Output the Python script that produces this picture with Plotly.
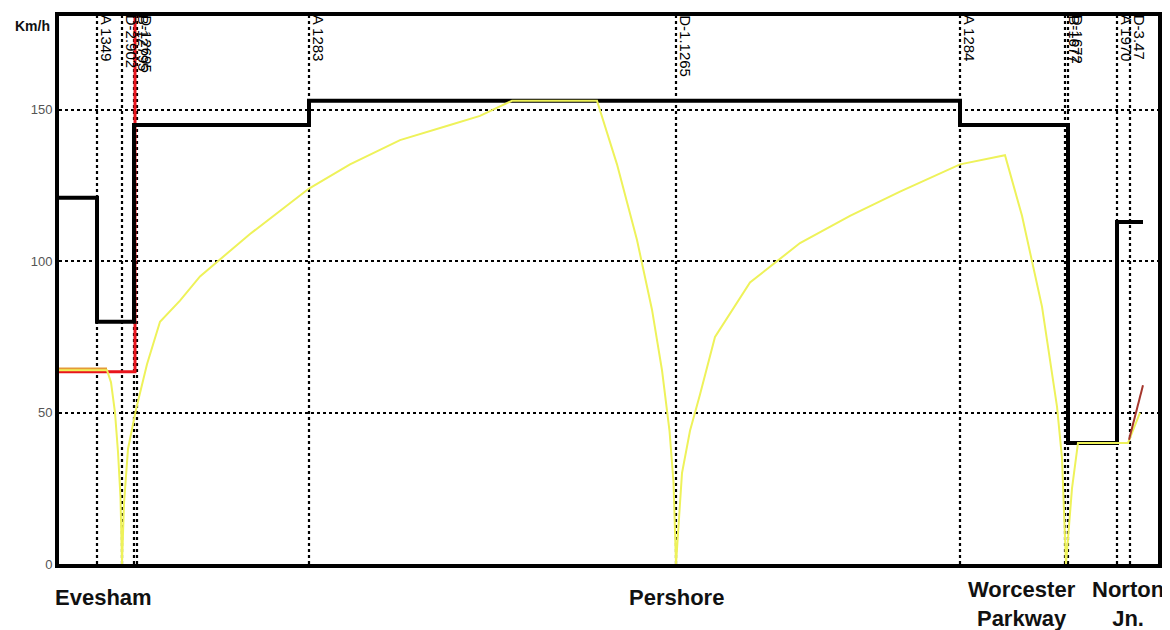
import plotly.graph_objects as go

# ---- data (distance in km, speed in km/h) ----
marker_x = [0.80, 1.30, 1.54, 1.60, 5.04, 12.38, 18.06, 20.16, 20.22, 21.20, 21.46]
marker_labels = ["A 1349", "D-2.902", "B-12795", "D-12695", "A 1283", "D-1.1265",
                 "A 1284", "B-1677", "D-1672", "A 1970", "D-3.47"]

limit_x = [0.0, 0.80, 1.54, 5.04, 18.06, 20.22, 21.20, 21.72]
limit_y = [121, 80, 145, 153, 145, 40, 113, 113]

red_x = [0.0, 1.56, 1.56]
red_y = [63.5, 63.5, 190]
orange_x = [0.0, 1.0]
orange_y = [64.5, 64.5]
brown_x = [21.44, 21.72]
brown_y = [41, 59]

speed_x = [0.0, 1.0, 1.08, 1.16, 1.22, 1.27, 1.30,
           1.34, 1.42, 1.58, 1.80, 2.06, 2.46, 2.86, 3.86, 5.04, 5.86, 6.86, 7.86, 8.46, 9.10,
           10.80, 11.20, 11.60, 11.90, 12.10, 12.25, 12.33, 12.38,
           12.50, 12.66, 12.86, 13.16, 13.86, 14.86, 15.86, 16.86, 18.06, 18.96,
           19.30, 19.70, 20.00, 20.10, 20.18,
           20.30, 20.42, 21.42, 21.66]
speed_y = [64, 64, 60, 50, 37, 22, 0,
           20, 38, 51, 66, 80, 87, 95, 109, 124, 132, 140, 145, 148, 153,
           153, 132, 107, 84, 64, 44, 27, 0,
           30, 44, 56, 75, 93, 106, 115, 123, 132, 135,
           115, 85, 52, 35, 0,
           25, 40, 40, 50]

y_ticks = [0, 50, 100, 150]
stations = ["Evesham", "Pershore", "Worcester<br>Parkway", "Norton<br>Jn."]
station_x = [0.92, 12.38, 19.30, 21.42]
station_y = [-0.0606, -0.0606, -0.073, -0.073]

fig = go.Figure()

# vertical dotted marker lines
for mx in marker_x:
    fig.add_trace(go.Scatter(x=[mx, mx], y=[0, 190], mode="lines",
                             line=dict(color="black", width=2.2, dash="dot"),
                             hoverinfo="skip", showlegend=False))

fig.add_trace(go.Scatter(x=red_x, y=red_y, mode="lines",
                         line=dict(color="#e8141c", width=3), showlegend=False))
fig.add_trace(go.Scatter(x=limit_x, y=limit_y, mode="lines", line_shape="hv",
                         line=dict(color="black", width=4), showlegend=False))
fig.add_trace(go.Scatter(x=orange_x, y=orange_y, mode="lines",
                         line=dict(color="#e49a38", width=2.5), showlegend=False))
fig.add_trace(go.Scatter(x=speed_x, y=speed_y, mode="lines",
                         line=dict(color="#eef25a", width=2), showlegend=False))
fig.add_trace(go.Scatter(x=brown_x, y=brown_y, mode="lines",
                         line=dict(color="#a5362c", width=2), showlegend=False))

for mx, lab in zip(marker_x, marker_labels):
    fig.add_annotation(x=mx, y=1.006, xref="x", yref="paper", text=lab,
                       textangle=90, xanchor="left", yanchor="top", showarrow=False,
                       xshift=-1, font=dict(family="Liberation Sans, Arial", size=15, color="black"))

for sx, sy, name in zip(station_x, station_y, stations):
    fig.add_annotation(x=sx, y=sy, xref="x", yref="paper", text="<b>" + name + "</b>",
                       xanchor="center", yanchor="middle", showarrow=False,
                       font=dict(family="Liberation Sans, Arial", size=22, color="#111"))

fig.add_annotation(x=-0.042, y=0.982, xref="paper", yref="paper", text="<b>Km/h</b>",
                   xanchor="left", yanchor="middle", showarrow=False,
                   font=dict(family="Liberation Sans, Arial", size=14, color="#111"))

fig.update_xaxes(range=[0.04, 22.02], showgrid=False, showticklabels=False, ticks="",
                 zeroline=False, showline=True, mirror=True, linewidth=4, linecolor="black")
fig.update_yaxes(range=[0, 181], tickvals=y_ticks, ticks="", showgrid=True,
                 gridcolor="black", gridwidth=1.5, griddash="dot", zeroline=False,
                 showline=True, mirror=True, linewidth=4, linecolor="black",
                 tickfont=dict(family="Liberation Sans, Arial", size=13, color="#555"),
                 ticklabelstandoff=0)

fig.update_layout(width=1162, height=622, margin=dict(l=51, r=12, t=4, b=65.5),
                  paper_bgcolor="white", plot_bgcolor="white")

fig.write_html("out.html")
